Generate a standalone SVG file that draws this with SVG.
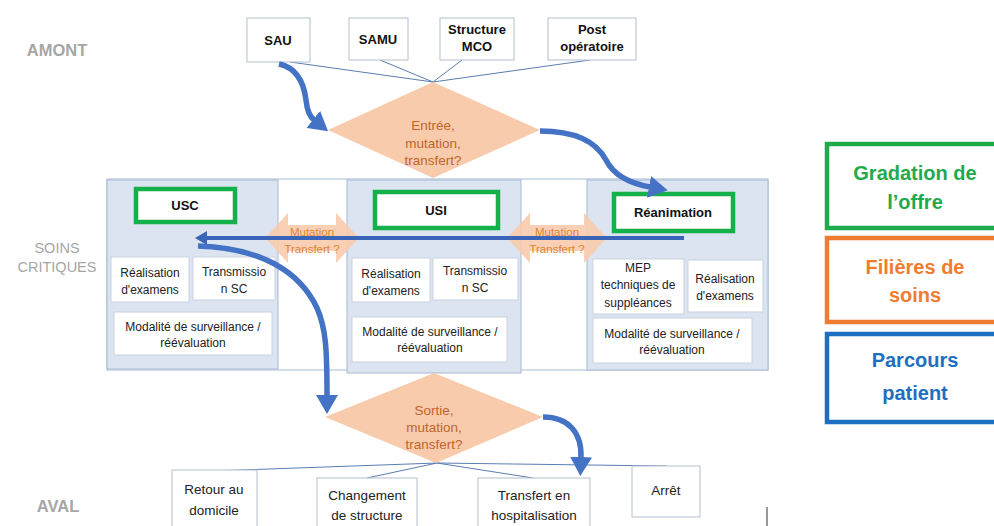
<svg xmlns="http://www.w3.org/2000/svg" width="994" height="526" viewBox="0 0 994 526">
<style>
text{font-family:"Liberation Sans",Arial,sans-serif;text-anchor:middle}
.lbl{fill:#a6a6a6;font-weight:bold;font-size:16.5px}
.lbl2{fill:#a6a6a6;font-size:14.5px}
.top rect{fill:#fff;stroke:#b4bfcf;stroke-width:1}
.top text{font-weight:bold;font-size:13px;fill:#111}
.dia polygon{fill:#f8cbad}
.dia text{fill:#c0652a;font-size:13.5px}
.panel{fill:#dbe4f0;stroke:#a8bad4;stroke-width:1}
.sub rect{fill:#fff;stroke:#c9d3e2;stroke-width:1}
.sub text{font-size:12px;fill:#222}
.unit rect{fill:#fff;stroke:#14b04a;stroke-width:4.5}
.unit text{font-weight:bold;font-size:13px;fill:#111}
.mut polygon{fill:#f8cbad;opacity:0.9}
.mut text{fill:#e0842f;font-size:11.5px}
.bot rect{fill:#fff;stroke:#b4bfcf;stroke-width:1}
.bot text{font-size:13.5px;fill:#222}
.thin{stroke:#5a7db0;stroke-width:1;fill:none}
.flow{stroke:#4472c4;stroke-width:5.5;fill:none;marker-end:url(#ah)}
.leg rect{fill:#fff;stroke-width:4.5}
.leg text{font-weight:bold;font-size:20px}
</style>
<defs>
<marker id="ah" markerUnits="userSpaceOnUse" markerWidth="20" markerHeight="22" refX="1" refY="11" orient="auto">
<path d="M0,0 L19,11 L0,22 z" fill="#4472c4"/>
</marker>
<marker id="ah2" markerUnits="userSpaceOnUse" markerWidth="14" markerHeight="14" refX="1" refY="7" orient="auto">
<path d="M0,0 L12,7 L0,14 z" fill="#3a64b8"/>
</marker>
</defs>
<rect width="994" height="526" fill="#fff"/>

<g id="labels">
<text class="lbl" x="57" y="56">AMONT</text>
<text class="lbl2" x="57" y="253">SOINS</text>
<text class="lbl2" x="57" y="272">CRITIQUES</text>
<text class="lbl" x="58" y="512">AVAL</text>
</g>

<g id="connectors-thin">
<line class="thin" x1="290" y1="62" x2="433" y2="82"/>
<line class="thin" x1="380" y1="60" x2="433" y2="82"/>
<line class="thin" x1="462" y1="60" x2="433" y2="82"/>
<line class="thin" x1="590" y1="60" x2="433" y2="82"/>
<line class="thin" x1="437" y1="463" x2="213" y2="471"/>
<line class="thin" x1="437" y1="463" x2="367" y2="478"/>
<line class="thin" x1="437" y1="463" x2="533" y2="478"/>
<line class="thin" x1="437" y1="463" x2="666" y2="466"/>
<line x1="767" y1="507" x2="767" y2="526" stroke="#333" stroke-width="1"/>
</g>

<g id="sau" class="top"><rect x="247" y="18" width="63" height="44"/><text x="278" y="45">SAU</text></g>
<g id="samu" class="top"><rect x="349" y="18" width="59" height="42"/><text x="378" y="44">SAMU</text></g>
<g id="mco" class="top"><rect x="440" y="18" width="74" height="42"/><text x="477" y="34">Structure</text><text x="477" y="51">MCO</text></g>
<g id="post" class="top"><rect x="548" y="18" width="88" height="42"/><text x="592" y="34">Post</text><text x="592" y="51">opératoire</text></g>

<g id="entree" class="dia"><polygon points="433,82 540,130 433,178 328,130"/>
<text x="433" y="130">Entrée,</text><text x="433" y="148">mutation,</text><text x="433" y="165">transfert?</text></g>

<g id="soins-critiques">
<rect x="107" y="179" width="661" height="191" fill="#fff" stroke="#a8bad4" stroke-width="1"/>
<rect class="panel" x="107" y="180" width="171" height="189"/>
<rect class="panel" x="347" y="180" width="174" height="193"/>
<rect class="panel" x="587" y="180" width="181" height="190"/>
</g>

<g id="usc" class="unit"><rect x="136" y="189" width="99" height="33"/><text x="185" y="210">USC</text></g>
<g id="usi" class="unit"><rect x="375" y="192" width="123" height="36"/><text x="436" y="215">USI</text></g>
<g id="reanimation" class="unit"><rect x="614" y="194" width="119" height="37"/><text x="673" y="217">Réanimation</text></g>

<g id="usc-exam" class="sub"><rect x="111" y="257" width="78" height="45"/><text x="150" y="277">Réalisation</text><text x="150" y="294">d'examens</text></g>
<g id="usc-trans" class="sub"><rect x="193" y="257" width="82" height="43"/><text x="234" y="276">Transmissio</text><text x="234" y="293">n SC</text></g>
<g id="usc-modal" class="sub"><rect x="114" y="312" width="158" height="43"/><text x="193" y="331">Modalité de surveillance /</text><text x="193" y="347">réévaluation</text></g>

<g id="usi-exam" class="sub"><rect x="352" y="258" width="78" height="44"/><text x="391" y="278">Réalisation</text><text x="391" y="295">d'examens</text></g>
<g id="usi-trans" class="sub"><rect x="433" y="258" width="85" height="42"/><text x="475" y="275">Transmissio</text><text x="475" y="292">n SC</text></g>
<g id="usi-modal" class="sub"><rect x="352" y="317" width="155" height="45"/><text x="430" y="336">Modalité de surveillance /</text><text x="430" y="352">réévaluation</text></g>

<g id="rea-mep" class="sub"><rect x="593" y="259" width="91" height="55"/><text x="638" y="272">MEP</text><text x="638" y="289">techniques de</text><text x="638" y="307">suppléances</text></g>
<g id="rea-exam" class="sub"><rect x="688" y="260" width="75" height="52"/><text x="725" y="283">Réalisation</text><text x="725" y="300">d'examens</text></g>
<g id="rea-modal" class="sub"><rect x="593" y="318" width="159" height="45"/><text x="672" y="338">Modalité de surveillance /</text><text x="672" y="354">réévaluation</text></g>

<g id="mutation-1" class="mut"><polygon points="265,238 288,213 288,225 336,225 336,213 359,238 336,263 336,251 288,251 288,263"/>
<text x="312" y="236">Mutation</text><text x="312" y="253">Transfert ?</text></g>
<g id="mutation-2" class="mut"><polygon points="507,238 530,213 530,225 584,225 584,213 607,238 584,263 584,251 530,251 530,263"/>
<text x="557" y="236">Mutation</text><text x="557" y="253">Transfert ?</text></g>

<g id="sortie" class="dia"><polygon points="434,373 543,417 436,463 325,417"/>
<text x="434" y="415">Sortie,</text><text x="434" y="432">mutation,</text><text x="434" y="449">transfert?</text></g>

<g id="retour" class="bot"><rect x="172" y="470" width="85" height="60"/><text x="214" y="494">Retour au</text><text x="214" y="515">domicile</text></g>
<g id="changement" class="bot"><rect x="317" y="478" width="100" height="52"/><text x="367" y="500">Changement</text><text x="367" y="520">de structure</text></g>
<g id="transfert" class="bot"><rect x="478" y="478" width="112" height="52"/><text x="534" y="500">Transfert en</text><text x="534" y="520">hospitalisation</text></g>
<g id="arret" class="bot"><rect x="632" y="466" width="68" height="51"/><text x="666" y="495">Arrêt</text></g>

<g id="connectors">
<path d="M684,238 L206,238" stroke="#3a64b8" stroke-width="4" fill="none" marker-end="url(#ah2)"/>
<path class="flow" d="M279,64 C298,68 304,84 306,100 C307,110 309,116 314,120"/>
<path class="flow" d="M540,131 C580,131 598,145 606,160 C613,174 628,183 650,187"/>
<path class="flow" d="M198,246 C262,248 300,272 317,308 C326,328 327,350 327,396"/>
<path class="flow" d="M543,417 C568,417 582,432 581,458"/>
</g>

<g id="legend" class="leg">
<g id="gradation"><rect x="827" y="144" width="180" height="84" stroke="#1faa4b"/><text x="915" y="180" fill="#1faa4b">Gradation de</text><text x="915" y="209" fill="#1faa4b">l’offre</text></g>
<g id="filieres"><rect x="827" y="238" width="180" height="84" stroke="#ee7d31"/><text x="915" y="274" fill="#ee7d31">Filières de</text><text x="915" y="302" fill="#ee7d31">soins</text></g>
<g id="parcours"><rect x="827" y="334" width="180" height="88" stroke="#1e6fc1"/><text x="915" y="367" fill="#1e6fc1">Parcours</text><text x="915" y="400" fill="#1e6fc1">patient</text></g>
</g>
</svg>
